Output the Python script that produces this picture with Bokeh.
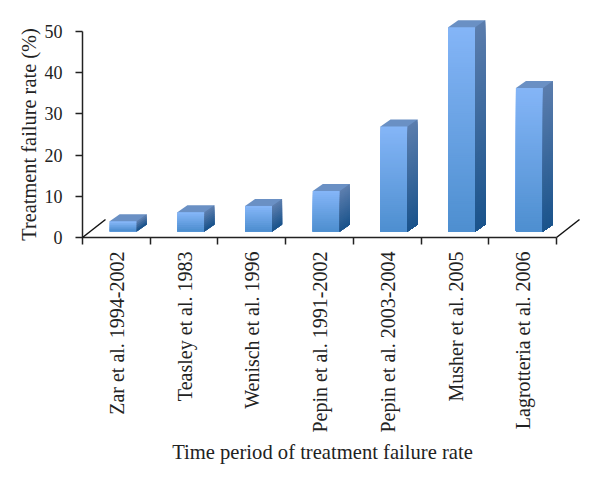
from bokeh.plotting import figure
from bokeh.models import FixedTicker, Range1d
from bokeh.embed import file_html
from bokeh.resources import INLINE
from math import pi

categories = ["Zar et al. 1994-2002", "Teasley et al. 1983", "Wenisch et al. 1996",
              "Pepin et al. 1991-2002", "Pepin et al. 2003-2004", "Musher et al. 2005",
              "Lagrotteria et al. 2006"]
failure_rate = [2.5, 4.7, 6.2, 9.8, 25.5, 49.6, 34.8]
y_ticks = [0, 10, 20, 30, 40, 50]

FONT = "Liberation Serif"
W, H = 592, 474
L, R, T, B = 82, 30, 31, 237
px_x = 7 / 474
px_y = 50 / 206
x_end = (W - L - R) * px_x
y_end = (H - T - B) * px_y

p = figure(width=W, height=H, output_backend="svg", toolbar_location=None,
           x_range=Range1d(0, x_end), y_range=Range1d(0, y_end),
           min_border_left=L, min_border_right=R, min_border_top=T, min_border_bottom=B,
           outline_line_color=None, background_fill_color="white", border_fill_color="white")
p.grid.visible = False

def mix(a, b, t):
    return "#%02x%02x%02x" % tuple(round(a[i] + (b[i] - a[i]) * t) for i in range(3))

F_TOP, F_BOT = (132, 181, 247), (78, 143, 208)
S_TOP, S_BOT = (91, 125, 173), (27, 84, 140)
TOP_C = "#6a90c4"
bw, dx, dy, base, shift = 27 * px_x, 10 * px_x, 7 * px_y, 6 * px_y, 6.8 * px_x

fx0, fx1, fy0, fy1, fc = [], [], [], [], []
sxs, sys, sc = [], [], []
txs, tys = [], []
for i, v in enumerate(failure_rate):
    c = i + 0.5 + shift
    x0, x1 = c - bw / 2, c + bw / 2
    y0, y1 = base, base + v
    n = max(4, int((y1 - y0) / px_y / 2))
    for k in range(n):
        a = y1 - (y1 - y0) * k / n
        # each slice runs on to the bar's foot; the next one paints over it
        col = mix(F_TOP, F_BOT, k / (n - 1))
        fx0.append(x0); fx1.append(x1); fy0.append(y0); fy1.append(a); fc.append(col)
        sxs.append([x1, x1 + dx, x1 + dx, x1])
        sys.append([a, a + dy, y0 + dy, y0])
        sc.append(mix(S_TOP, S_BOT, k / (n - 1)))
    # whole silhouette in the top-face colour, painted first: front and side cover
    # all but the top face, and it stays inside the frame so Bokeh does not cull it
    txs.append([x0, x0, x0 + dx, x1 + dx, x1 + dx, x1])
    tys.append([y0, y1, y1 + dy, y1 + dy, y0 + dy, y0])

p.patches(txs, tys, fill_color=TOP_C, line_color=None, level="overlay")
p.quad(left=fx0, right=fx1, bottom=fy0, top=fy1, fill_color=fc, line_color=None, level="overlay")
p.patches(sxs, sys, fill_color=sc, line_color=None, level="overlay")

# floor edges running back from both ends of the axis
depth_x, depth_y = 23 * px_x, 18 * px_y
for x in (0, len(categories)):
    p.line([x, x + depth_x], [0, depth_y], line_color="#111111", line_width=1.5, level="overlay")

for ax in (p.xaxis[0], p.yaxis[0]):
    ax.axis_line_color = "#222222"
    ax.axis_line_width = 1.5
    ax.major_tick_line_color = "#222222"
    ax.major_tick_line_width = 1.5
    ax.minor_tick_line_color = "#222222"
    ax.minor_tick_line_width = 1.5
    ax.major_label_text_font = FONT
    ax.major_label_text_color = "#222222"
    ax.axis_label_text_font = FONT
    ax.axis_label_text_color = "#222222"
    ax.axis_label_text_font_style = "normal"

xa = p.xaxis[0]
centers = [i + 0.5 + 0.7 * px_x for i in range(len(categories))]
xa.ticker = FixedTicker(ticks=centers, minor_ticks=list(range(len(categories) + 1)))
xa.bounds = (0, len(categories))
xa.major_label_overrides = {c: n for c, n in zip(centers, categories)}
xa.major_label_orientation = pi / 2
xa.major_tick_out = 0
xa.major_tick_in = 0
xa.minor_tick_out = 7
xa.minor_tick_in = 0
xa.major_label_standoff = 7
xa.major_label_text_font_size = "20px"
xa.axis_label = "Time period of treatment failure rate"
xa.axis_label_text_font_size = "20.6px"
xa.axis_label_standoff = 5

ya = p.yaxis[0]
ya.ticker = FixedTicker(ticks=y_ticks, minor_ticks=[])
ya.major_tick_out = 7
ya.major_tick_in = 0
ya.major_label_standoff = 13
ya.major_label_text_font_size = "18px"
ya.axis_label = "Treatment failure rate (%)"
ya.axis_label_text_font_size = "20.4px"
ya.axis_label_standoff = 2

open("out.html", "w").write(file_html(p, INLINE))
